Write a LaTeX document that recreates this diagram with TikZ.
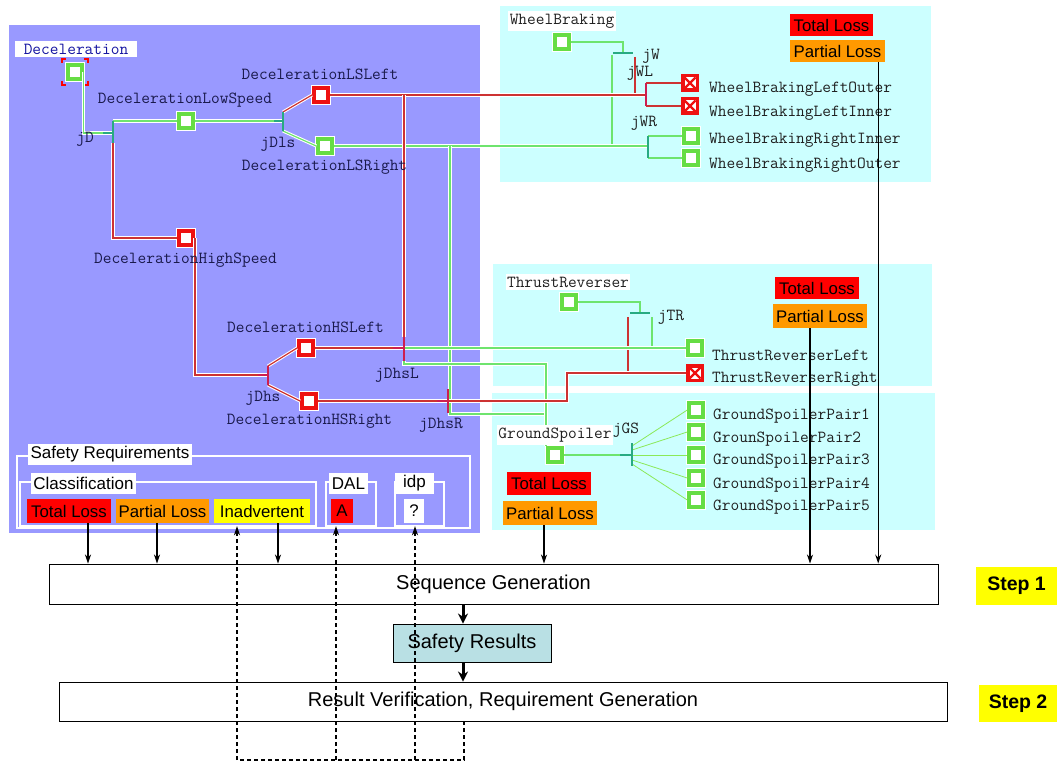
\documentclass[tikz,border=0pt]{standalone}
\usepackage{fontspec}
\setmainfont{Liberation Sans}
\usetikzlibrary{arrows.meta}
\definecolor{purp}{RGB}{153,153,255}
\definecolor{cyanp}{RGB}{204,255,255}
\definecolor{sqgreen}{RGB}{102,221,68}
\definecolor{sqred}{RGB}{238,17,17}
\definecolor{lngreen}{RGB}{110,228,110}
\definecolor{lnred}{RGB}{205,50,50}
\definecolor{tkteal}{RGB}{40,170,130}
\definecolor{tkmag}{RGB}{205,30,80}
\definecolor{navy}{RGB}{25,25,75}
\definecolor{declab}{RGB}{20,20,160}
\definecolor{lossred}{RGB}{255,0,0}
\definecolor{lossor}{RGB}{255,153,0}
\definecolor{inadv}{RGB}{255,255,0}
\definecolor{srfill}{RGB}{185,224,228}
\begin{document}
\begin{tikzpicture}[x=1pt,y=-1pt,
 gsq/.style={rectangle, draw=sqgreen, line width=3.5pt, fill=white, minimum size=14pt, inner sep=0pt, preaction={draw=white, line width=5.5pt}},
 rsq/.style={rectangle, draw=sqred, line width=4pt, fill=white, minimum size=14pt, inner sep=0pt, preaction={draw=white, line width=6pt}},
 xsq/.style={rectangle, fill=sqred, minimum size=18pt, inner sep=0pt,
   path picture={
     \fill[white] ([shift={(3.5pt,3.5pt)}]path picture bounding box.south west) rectangle ([shift={(-3.5pt,-3.5pt)}]path picture bounding box.north east);
     \draw[sqred, line width=2.4pt] ([shift={(3.5pt,3.5pt)}]path picture bounding box.south west) -- ([shift={(-3.5pt,-3.5pt)}]path picture bounding box.north east);
     \draw[sqred, line width=2.4pt] ([shift={(3.5pt,-3.5pt)}]path picture bounding box.north west) -- ([shift={(-3.5pt,3.5pt)}]path picture bounding box.south east);}},
 ml/.style={font=\ttfamily\fontsize{16.9}{17}\selectfont, text=navy, inner sep=0pt},
 mlc/.style={font=\ttfamily\fontsize{16.9}{17}\selectfont, text=black!88, inner sep=0pt},
 wlab/.style={fill=white, inner xsep=2pt, inner ysep=3pt},
 loss/.style={font=\fontsize{16.8}{17}\selectfont, inner xsep=2pt, inner ysep=0pt, minimum height=22pt},
 slab/.style={font=\fontsize{17}{17}\selectfont, fill=white, inner xsep=2.5pt, inner ysep=0pt, minimum height=21pt},
 glh/.style={draw=lngreen, line width=1.2pt, preaction={draw=white, line width=3.2pt}},
 rlh/.style={draw=lnred, line width=1.2pt, preaction={draw=white, line width=3.2pt}},
 gl/.style={draw=lngreen, line width=1.1pt},
 rl/.style={draw=lnred, line width=1.1pt},
 fan/.style={draw=lngreen!80!yellow, line width=0.8pt},
 tkt/.style={draw=tkteal, line width=1.5pt},
 tkm/.style={draw=tkmag, line width=1.5pt},
 arr/.style={draw=black, line width=1.3pt, -{Stealth[length=9pt,width=6pt]}},
 thk/.style={draw=black, line width=3pt, -{Stealth[length=10pt,width=10pt]}},
 dsh/.style={draw=black, line width=1.3pt, dash pattern=on 4pt off 3pt},
 dsha/.style={dsh, -{Stealth[length=9pt,width=6pt]}},
 bigbox/.style={draw=black, line width=0.9pt, fill=white, font=\fontsize{20}{20}\selectfont, inner sep=0pt},
 stepb/.style={fill=inadv, font=\bfseries\fontsize{19.5}{20}\selectfont, inner sep=0pt},
 frm/.style={draw=white, line width=1.4pt}]
\useasboundingbox (0,0) rectangle (1057,762);
\fill[white] (0,0) rectangle (1057,762);

% panels
\fill[purp] (9,25) rectangle (480,533);
\fill[cyanp] (500,6) rectangle (931,182);
\fill[cyanp] (493,264) rectangle (932,386);
\fill[cyanp] (492,393) rectangle (935,530);

% squares
\node[gsq] (D0) at (75,72) {};
\node[gsq] (LS) at (186,121) {};
\node[rsq] (LL) at (321,95) {};
\node[gsq] (LR) at (325,146) {};
\node[rsq] (HS) at (186,238) {};
\node[rsq] (HL) at (306,348) {};
\node[rsq] (HR) at (309,401) {};
\node[gsq] (WB) at (562,42) {};
\node[xsq] (WLO) at (690,83) {};
\node[xsq] (WLI) at (690,106) {};
\node[gsq] (WRI) at (691,136) {};
\node[gsq] (WRO) at (691,158) {};
\node[gsq] (TR) at (569,302) {};
\node[gsq] (TRL) at (695,348) {};
\node[xsq] (TRR) at (695,373) {};
\node[gsq] (GS) at (555,455) {};
\node[gsq] (G1) at (696,410) {};
\node[gsq] (G2) at (696,432) {};
\node[gsq] (G3) at (696,455) {};
\node[gsq] (G4) at (696,478) {};
\node[gsq] (G5) at (696,500) {};

% selection marks
\begin{scope}[shift={(D0.center)}]
\draw[red, line width=2pt] (-13,-9) -- (-13,-13) -- (-9,-13);
\draw[red, line width=2pt] (13,-9) -- (13,-13) -- (9,-13);
\draw[red, line width=2pt] (-13,9) -- (-13,13) -- (-9,13);
\draw[red, line width=2pt] (13,9) -- (13,13) -- (9,13);
\end{scope}

% junction coordinates
\coordinate (jDt) at (113,121); \coordinate (jDb) at (113,143); \coordinate (jDm) at (113,133);
\coordinate (jDls) at (283,121); \coordinate (jDlsT) at (283,112); \coordinate (jDlsB) at (283,131);
\coordinate (jDhs) at (268,375); \coordinate (jDhsT) at (268,366); \coordinate (jDhsB) at (268,385);
\coordinate (jDhsL) at (404,348); \coordinate (jDhsLT) at (404,337); \coordinate (jDhsLB) at (404,361);
\coordinate (jDhsR) at (448,401); \coordinate (jDhsRT) at (448,389); \coordinate (jDhsRB) at (448,413);
\coordinate (gv) at (450,414); \coordinate (gsA) at (546,364); \coordinate (rb) at (567,373);
\coordinate (jWL) at (646,95); \coordinate (jWLT) at (646,83); \coordinate (jWLB) at (646,106);
\coordinate (jWR) at (648,146); \coordinate (jWRT) at (648,136); \coordinate (jWRB) at (648,158);
\coordinate (jW) at (623,53); \coordinate (jWg) at (612,55); \coordinate (jWr) at (635,57);
\coordinate (jTR) at (640,313); \coordinate (jTRr) at (628,317); \coordinate (jTRg) at (652,317);
\coordinate (jGS) at (632,455);

% cyan panel connectors
\draw[gl] (WB.east) -| (jW);
\draw[gl] (jWg) -- (jWg |- LR.east);
\draw[rl] (jWr) -- (jWr |- LL.east);
\draw[rl] (jWLT) -- (WLO.west);
\draw[rl] (jWLB) -- (WLI.west);
\draw[gl] (jWRT) -- (WRI.west);
\draw[gl] (jWRB) -- (WRO.west);
\draw[gl] (TR.east) -| (jTR);
\draw[rl] (jTRr) -- (jTRr |- TRR.west);
\draw[gl] (jTRg) -- (jTRg |- TRL.west);
\draw[gl] (GS.east) -- (jGS);
\draw[fan] ([yshift=9pt]jGS) -- (G1.west);
\draw[fan] ([yshift=5pt]jGS) -- (G2.west);
\draw[fan] (jGS) -- (G3.west);
\draw[fan] ([yshift=-5pt]jGS) -- (G4.west);
\draw[fan] ([yshift=-9pt]jGS) -- (G5.west);

% deceleration connectors
\draw[glh] (D0.east) |- (jDm);
\draw[glh] (jDt) -- (LS.west);
\draw[rlh] (jDb) |- (HS.west);
\draw[glh] (LS.east) -- (jDls);
\draw[rlh] (jDlsT) -- (LL.west);
\draw[glh] (jDlsB) -- (LR.west);
\draw[rlh] (HS.east) |- (jDhs);
\draw[rlh] (jDhsT) -- (HL.west);
\draw[rlh] (jDhsB) -- (HR.west);
\draw[rlh] (LL.east) -- (jWL);
\draw[glh] (LR.east) -- (jWR);
\draw[rlh] (jDhsLT |- LL.east) -- (jDhsLT);
\draw[glh] (gv |- LR.east) -- (gv) -- (gv -| gsA);
\draw[rlh] (HL.east) -- (jDhsL);
\draw[rlh] (HR.east) -- (jDhsR);
\draw[glh] (jDhsL) -- (TRL.west);
\draw[glh] (jDhsLB) |- (gsA) -- (gsA |- GS.north);
\draw[rlh] (jDhsR) -| (rb) -- (TRR.west);

% ticks
\draw[tkt] (jDt) -- (jDb); \draw[tkt] ([xshift=-10pt]jDm) -- (jDm);
\draw[tkt] (jDlsT) -- (jDlsB); \draw[tkt] ([xshift=-9pt]jDls) -- (jDls);
\draw[tkm] (jDhsT) -- (jDhsB); \draw[tkm] ([xshift=-10pt]jDhs) -- (jDhs);
\draw[tkm] (jDhsLT) -- (jDhsLB); \draw[tkm] ([xshift=-11pt]jDhsL) -- (jDhsL);
\draw[tkm] (jDhsRT) -- (jDhsRB); \draw[tkm] ([xshift=-11pt]jDhsR) -- (jDhsR);
\draw[tkm] (jWLT) -- (jWLB);
\draw[tkt] (jWRT) -- (jWRB);
\draw[tkt] ([xshift=-10pt]jW) -- ([xshift=10pt]jW);
\draw[tkt] ([xshift=-10pt]jTR) -- ([xshift=10pt]jTR);
\draw[tkt] ([yshift=12pt]jGS) -- ([yshift=-11pt]jGS); \draw[tkt] ([xshift=-12pt]jGS) -- (jGS);

% deceleration labels
\node[ml, wlab, text=declab, inner xsep=9pt] (lD0) at (76,49) {Deceleration};
\node[ml] (lLS) at (185,100) {DecelerationLowSpeed};
\node[ml] (lLL) at (320,74) {DecelerationLSLeft};
\node[ml] (ljD) at (85,139) {jD};
\node[ml] (ljDls) at (278,144) {jDls};
\node[ml] (lLR) at (324.5,167) {DecelerationLSRight};
\node[ml] (lHS) at (185.5,260) {DecelerationHighSpeed};
\node[ml] (lHL) at (305.5,327) {DecelerationHSLeft};
\node[ml] (lHR) at (309.5,421) {DecelerationHSRight};
\node[ml] (ljDhs) at (263,398) {jDhs};
\node[ml] (ljDhsL) at (397,375) {jDhsL};
\node[ml] (ljDhsR) at (441,425) {jDhsR};

% cyan labels
\node[mlc, wlab] (lWB) at (562,21) {WheelBraking};
\node[mlc] (ljW) at (651,56) {jW};
\node[mlc] (ljWL) at (640,73) {jWL};
\node[mlc] (ljWR) at (644,123) {jWR};
\node[mlc, anchor=west] (lWLO) at (709,89) {WheelBrakingLeftOuter};
\node[mlc, anchor=west] (lWLI) at (709,113) {WheelBrakingLeftInner};
\node[mlc, anchor=west] (lWRI) at (709,140) {WheelBrakingRightInner};
\node[mlc, anchor=west] (lWRO) at (709,165) {WheelBrakingRightOuter};
\node[mlc, wlab, inner xsep=1pt] (lTR) at (568,282) {ThrustReverser};
\node[mlc] (ljTR) at (671,317) {jTR};
\node[mlc, anchor=west] (lTRL) at (712,355) {ThrustReverserLeft};
\node[mlc, anchor=west] (lTRR) at (712,379) {ThrustReverserRight};
\node[mlc, wlab, inner xsep=1pt] (lGS) at (555,435) {GroundSpoiler};
\node[mlc] (ljGS) at (626,430) {jGS};
\node[mlc, anchor=west] (lG1) at (713,416) {GroundSpoilerPair1};
\node[mlc, anchor=west] (lG2) at (713,439) {GrounSpoilerPair2};
\node[mlc, anchor=west] (lG3) at (713,461) {GroundSpoilerPair3};
\node[mlc, anchor=west] (lG4) at (713,485) {GroundSpoilerPair4};
\node[mlc, anchor=west] (lG5) at (713,507) {GroundSpoilerPair5};

% loss labels in panels
\node[loss, fill=lossred, minimum width=83pt] (wbTL) at (831.5,25) {Total Loss};
\node[loss, fill=lossor, minimum width=95pt] (wbPL) at (837.5,51) {Partial Loss};
\node[loss, fill=lossred, minimum width=84pt] (trTL) at (817,288) {Total Loss};
\node[loss, fill=lossor, minimum width=94pt, minimum height=24pt] (trPL) at (820,316) {Partial Loss};
\node[loss, fill=lossred, minimum width=84pt, minimum height=23pt] (gsTL) at (549,483.5) {Total Loss};
\node[loss, fill=lossor, minimum width=94pt, minimum height=24pt] (gsPL) at (550,513) {Partial Loss};

% safety requirements frames
\draw[frm] (17,456) rectangle (470,528);
\draw[frm] (20,482) rectangle (316,526);
\draw[frm] (326,482) rectangle (376,526);
\draw[frm] (395,482) rectangle (444,526);
\node[slab] (lSR) at (110,454.5) {Safety Requirements};
\node[slab] (lCL) at (83.5,483.5) {Classification};
\node[slab, minimum width=39pt] (lDAL) at (348.5,483.5) {DAL};
\node[slab, minimum width=39pt] (lIDP) at (414.5,483.5) {idp};
\node[loss, fill=lossred, minimum width=84pt, minimum height=24pt] (cTL) at (69,511) {Total Loss};
\node[loss, fill=lossor, minimum width=93pt, minimum height=24pt] (cPL) at (162.5,511) {Partial Loss};
\node[loss, fill=inadv, minimum width=96pt, minimum height=24pt] (cIN) at (262,511) {Inadvertent};
\node[loss, fill=lossred, minimum width=22pt, minimum height=24pt] (cA) at (342,511) {A};
\node[loss, fill=white, minimum width=20pt, minimum height=24pt] (cQ) at (414,511) {?};

% bottom boxes
\node[bigbox, minimum width=889pt, minimum height=40pt] (seq) at (493.5,584) {Sequence Generation};
\node[bigbox, fill=srfill, minimum width=158pt, minimum height=38pt] (sr) at (472,643) {Safety Results};
\node[bigbox, minimum width=888pt, minimum height=39pt] (rv) at (503,701.5) {Result Verification, Requirement Generation};
\node[stepb, minimum width=81pt, minimum height=38pt] (st1) at (1016.5,586) {Step 1};
\node[stepb, minimum width=78pt, minimum height=37pt] (st2) at (1018,703.5) {Step 2};

% arrows into sequence generation
\draw[arr] ([xshift=-7pt]wbPL.south east) -- ([xshift=-7pt]wbPL.south east |- seq.north);
\coordinate (a2) at ([xshift=-10pt]trPL.south);
\draw[arr] (a2) -- (a2 |- seq.north);
\coordinate (a3) at ([xshift=-6pt]gsPL.south);
\draw[arr] (a3) -- (a3 |- seq.north);
\coordinate (a4) at ([xshift=19pt]cTL.south);
\draw[arr] (a4) -- (a4 |- seq.north);
\coordinate (a5) at ([xshift=-5.5pt]cPL.south);
\draw[arr] (a5) -- (a5 |- seq.north);
\coordinate (a6) at ([xshift=16pt]cIN.south);
\draw[arr] (a6) -- (a6 |- seq.north);

% thick arrows
\coordinate (tA) at ([xshift=-9pt]sr.north);
\draw[thk] (tA |- seq.south) -- (tA);
\coordinate (tB) at ([xshift=-9pt]sr.south);
\draw[thk] (tB) -- (tB |- rv.north);

% dashed feedback
\coordinate (dl) at (237,760);
\coordinate (dr) at (464,760);
\draw[dsh] (dr |- rv.south) -- (dr) -- (dl);
\coordinate (dI) at ([yshift=-3pt]cIN.south);
\draw[dsha] (dl) -- (dl |- dI);
\coordinate (dA) at ([xshift=-6pt, yshift=-3pt]cA.south);
\draw[dsha] (dA |- dl) -- (dA);
\coordinate (dQ) at ([xshift=1pt, yshift=-3pt]cQ.south);
\draw[dsha] (dQ |- dl) -- (dQ);
\end{tikzpicture}
\end{document}
